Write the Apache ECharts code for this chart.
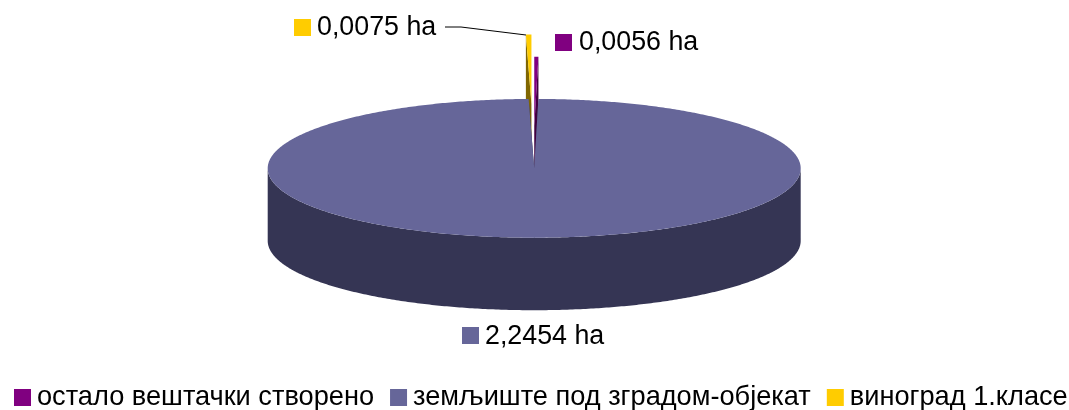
<!DOCTYPE html>
<html lang="en">

<head>
    <meta charset="UTF-8">
    <title>Document</title>
    <script src="https://cdn.jsdelivr.net/npm/echarts@6/dist/echarts.min.js"></script>
    <style>
        html, body { margin: 0; padding: 0; background: #fff; }
    </style>
</head>

<body>
    <div id="main" style="width: 1069px;height:410px;"></div>
    <script type="text/javascript">
        // slices go clockwise from 12 o'clock in this order
        var categories = ['остало вештачки створено', 'земљиште под зградом-објекат', 'виноград 1.класе'];
        var areas = [0.0056, 2.2454, 0.0075];

        var topColors = ['#800080', '#666699', '#FFCC00'];
        var sideColors = ['#400040', '#353554', '#806600'];
        var explode = [162, 0, 247];
        var nudgeX = [-1.2, 0, -0.2];
        var drawOrder = [3, 4, 2];

        var total = areas.reduce(function (a, b) { return a + b; }, 0);
        var cx = 534.2, cy = 168.3, rx = 266.5, ry = 69.4, depth = 72.5;
        var fontName = '"Liberation Sans", Arial, sans-serif';

        // position of the value labels: square left/top, text start/middle
        var labelPos = [
            { x: 555, sy: 34, tx: 579, ty: 42.5 },
            { x: 462, sy: 327, tx: 485, ty: 337 },
            { x: 294, sy: 19, tx: 317, ty: 28 }
        ];
        var leader = [[445, 27], [461, 27], [526, 35]];

        function startAngle(idx) {
            var sum = 0;
            for (var i = 0; i < idx; i++) sum += areas[i];
            return sum / total * Math.PI * 2;
        }

        function onEllipse(a, ox, oy) {
            return [ox + rx * Math.sin(a), oy - ry * Math.cos(a)];
        }

        function arc(a0, a1, ox, oy) {
            var pts = [];
            var n = Math.max(2, Math.ceil(Math.abs(a1 - a0) / 0.01));
            for (var i = 0; i <= n; i++) pts.push(onEllipse(a0 + (a1 - a0) * i / n, ox, oy));
            return pts;
        }

        function renderSlice(params, api) {
            var idx = params.seriesIndex;
            var a0 = startAngle(idx);
            var a1 = a0 + api.value(0) / total * Math.PI * 2;
            var mid = (a0 + a1) / 2;
            var ox = cx + nudgeX[idx] + explode[idx] * Math.sin(mid);
            var oy = cy - explode[idx] * Math.cos(mid) * (ry / rx);
            var side = sideColors[idx];
            var children = [];

            function poly(points, fill) {
                children.push({ type: 'polygon', shape: { points: points }, style: { fill: fill } });
            }

            // visible faces: radial cuts first, then the outer wall in the front half
            var p0 = onEllipse(a0, ox, oy), p1 = onEllipse(a1, ox, oy);
            poly([[ox, oy], p0, [p0[0], p0[1] + depth], [ox, oy + depth]], side);
            poly([[ox, oy], p1, [p1[0], p1[1] + depth], [ox, oy + depth]], side);
            var w0 = Math.max(a0, Math.PI / 2), w1 = Math.min(a1, Math.PI * 1.5);
            if (w1 > w0) {
                var upper = arc(w0, w1, ox, oy);
                var lower = arc(w1, w0, ox, oy + depth);
                poly(upper.concat(lower), side);
            }
            // top face
            poly([[ox, oy]].concat(arc(a0, a1, ox, oy)), api.visual('color'));

            // value label
            var lab = labelPos[idx];
            var txt = api.value(0).toFixed(4).replace('.', ',') + ' ha';
            children.push({
                type: 'rect', z2: 10,
                shape: { x: lab.x, y: lab.sy, width: 17, height: 17 },
                style: { fill: api.visual('color') }
            });
            children.push({
                type: 'text', z2: 10,
                style: {
                    x: lab.tx, y: lab.ty, text: txt, fill: '#000',
                    font: '26.8px ' + fontName, textVerticalAlign: 'middle'
                }
            });
            if (idx === 2) {
                children.push({
                    type: 'polyline', z2: 10,
                    shape: { points: leader },
                    style: { stroke: '#000', lineWidth: 1, fill: null }
                });
            }
            return { type: 'group', children: children };
        }

        var series = categories.map(function (name, i) {
            return {
                type: 'custom',
                name: name,
                coordinateSystem: 'none',
                z: drawOrder[i],
                silent: true,
                itemStyle: { color: topColors[i] },
                renderItem: renderSlice,
                data: [[areas[i]]]
            };
        });

        var myChart = echarts.init(document.getElementById('main'));
        myChart.setOption({
            animation: false,
            backgroundColor: '#fff',
            legend: {
                left: 14,
                top: 384,
                padding: 0,
                icon: 'rect',
                itemWidth: 17,
                itemHeight: 17,
                itemGap: 16,
                selectedMode: false,
                data: categories,
                textStyle: { fontFamily: 'Liberation Sans', fontSize: 27.2, color: '#000', padding: [0, 0, 0, 1] }
            },
            series: series
        });
    </script>
</body>

</html>
